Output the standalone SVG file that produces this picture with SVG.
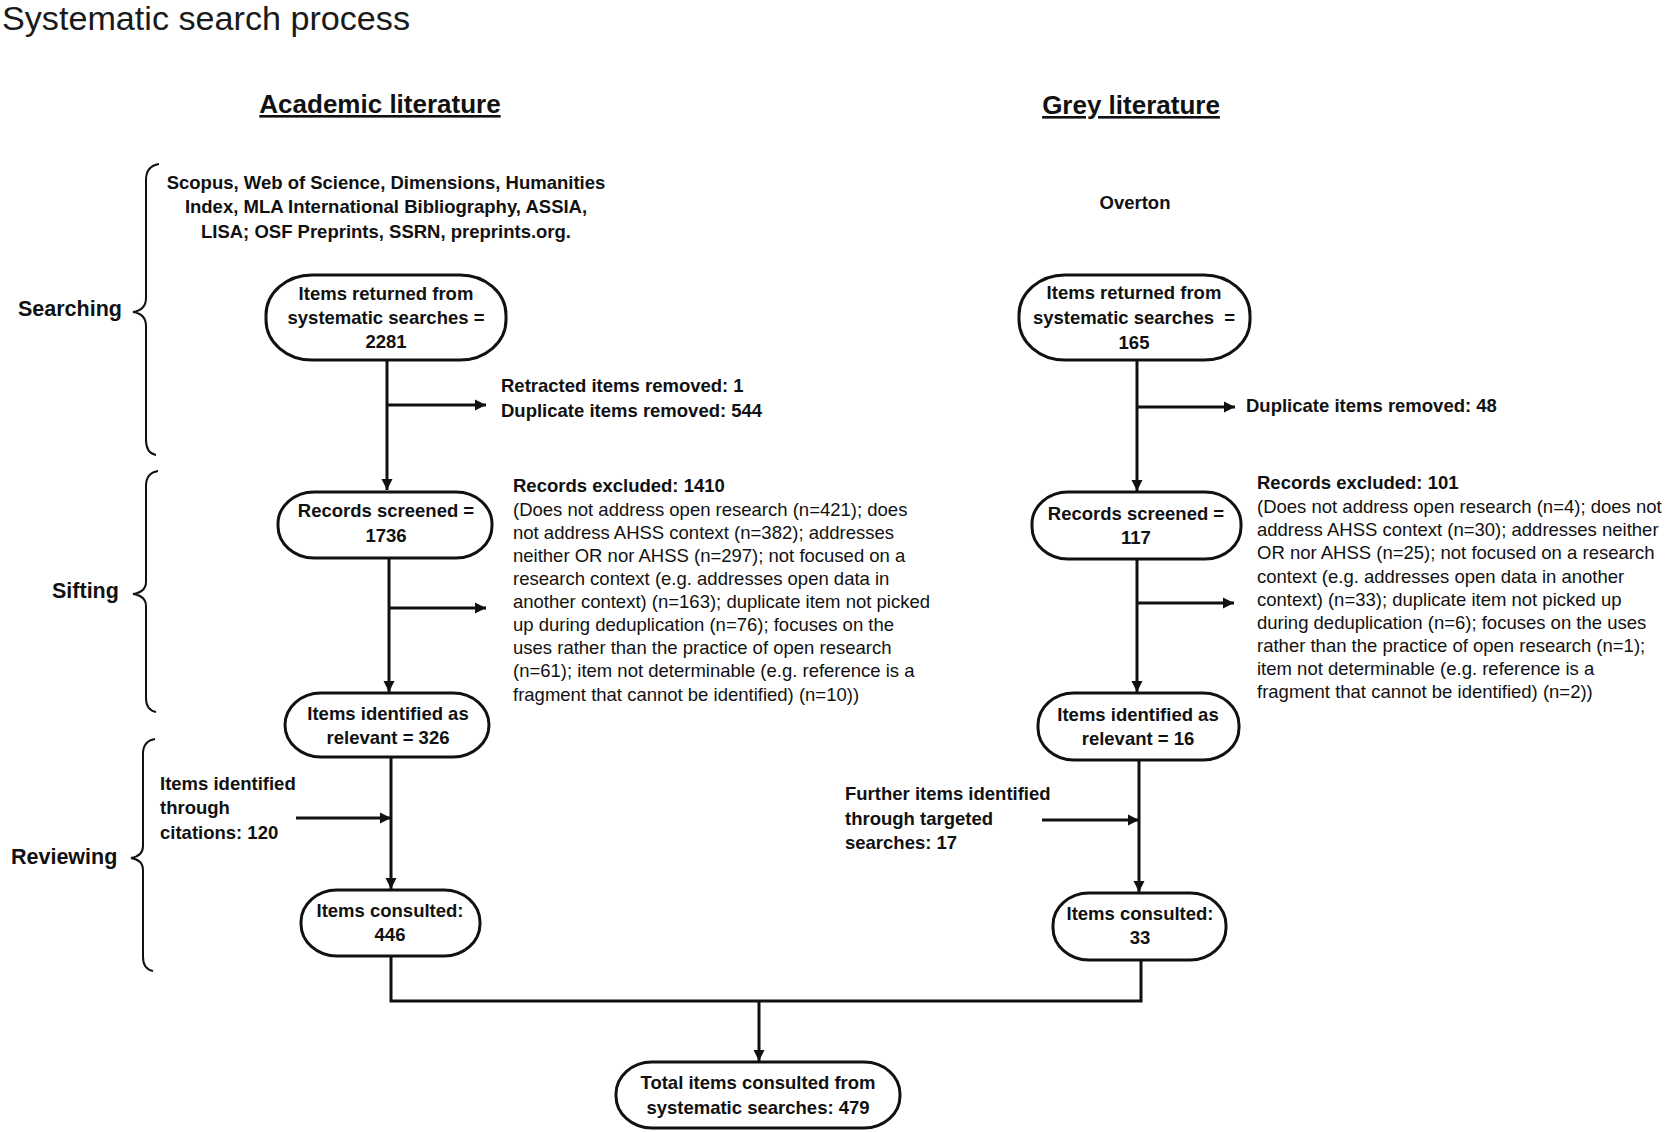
<svg xmlns="http://www.w3.org/2000/svg" width="1665" height="1132" viewBox="0 0 1665 1132">
<style>
text{font-family:"Liberation Sans",Arial,Helvetica,sans-serif;fill:#111}
.b{font-size:18.5px;font-weight:bold}
.r{font-size:18.5px}
.m{text-anchor:middle}
.h{font-size:26px;font-weight:bold;text-decoration:underline}
.lbl{font-size:21.5px;font-weight:bold}
.box{fill:#fff;stroke:#111;stroke-width:3}
.con{fill:none;stroke:#111;stroke-width:3}
.brace{fill:none;stroke:#111;stroke-width:2}
</style>
<defs>
<marker id="ah" viewBox="0 0 10 10" refX="10" refY="5" markerWidth="11" markerHeight="12" markerUnits="userSpaceOnUse" orient="auto">
<path d="M0,0 L10,5 L0,10 z" fill="#111"/>
</marker>
</defs>
<rect width="1665" height="1132" fill="#fff"/>
<text x="2" y="30" textLength="408" lengthAdjust="spacingAndGlyphs" style="font-size:33px;fill:#1a1a1a">Systematic search process</text>
<text class="h m" x="380" y="113">Academic literature</text>
<text class="h m" x="1131" y="114">Grey literature</text>

<g id="phases">
<path class="brace" d="M159,164 Q146,166 146,180 V298 Q146,310 133,312 Q146,314 146,326 V440 Q146,453 156,455"/>
<text class="lbl" x="18" y="316">Searching</text>
<path class="brace" d="M158,471 Q146,473 146,486 V582 Q146,592 133,594 Q146,596 146,606 V698 Q146,710 156,712"/>
<text class="lbl" x="52" y="598">Sifting</text>
<path class="brace" d="M155,739 Q143,741 143,754 V846 Q143,856 131,858 Q143,860 143,870 V957 Q143,969 153,971"/>
<text class="lbl" x="11" y="864">Reviewing</text>
</g>

<g id="connectors">
<path class="con" d="M387,360 V490" marker-end="url(#ah)"/>
<path class="con" d="M387,405 H486" marker-end="url(#ah)"/>
<path class="con" d="M389,558 V692" marker-end="url(#ah)"/>
<path class="con" d="M389,608 H486" marker-end="url(#ah)"/>
<path class="con" d="M391,757 V889" marker-end="url(#ah)"/>
<path class="con" d="M296,818 H391" marker-end="url(#ah)"/>
<path class="con" d="M1137,360 V491" marker-end="url(#ah)"/>
<path class="con" d="M1137,407 H1235" marker-end="url(#ah)"/>
<path class="con" d="M1137,559 V692" marker-end="url(#ah)"/>
<path class="con" d="M1137,603 H1234" marker-end="url(#ah)"/>
<path class="con" d="M1139,760 V892" marker-end="url(#ah)"/>
<path class="con" d="M1042,820 H1139" marker-end="url(#ah)"/>
<path class="con" d="M391,956 V1001 H1141 V960"/>
<path class="con" d="M759,1001 V1061" marker-end="url(#ah)"/>
</g>

<g id="acad-sources">
<text class="b m" x="386" y="189">Scopus, Web of Science, Dimensions, Humanities</text>
<text class="b m" x="386" y="213">Index, MLA International Bibliography, ASSIA,</text>
<text class="b m" x="386" y="238">LISA; OSF Preprints, SSRN, preprints.org.</text>
</g>

<g id="acad-returned">
<rect class="box" x="266" y="275" width="240" height="85" rx="46" ry="40"/>
<text class="b m" x="386" y="300">Items returned from</text>
<text class="b m" x="386" y="324">systematic searches =</text>
<text class="b m" x="386" y="348">2281</text>
</g>

<g id="acad-removed">
<text class="b" x="501" y="392">Retracted items removed: 1</text>
<text class="b" x="501" y="417">Duplicate items removed: 544</text>
</g>

<g id="acad-screened">
<rect class="box" x="278" y="492" width="214" height="66" rx="36" ry="32"/>
<text class="b m" x="386" y="517">Records screened =</text>
<text class="b m" x="386" y="542">1736</text>
</g>

<g id="acad-excluded">
<text class="b" x="513" y="492">Records excluded: 1410</text>
<text class="r" x="513" y="516">(Does not address open research (n=421); does</text>
<text class="r" x="513" y="539">not address AHSS context (n=382); addresses</text>
<text class="r" x="513" y="562">neither OR nor AHSS (n=297); not focused on a</text>
<text class="r" x="513" y="585">research context (e.g. addresses open data in</text>
<text class="r" x="513" y="608">another context) (n=163); duplicate item not picked</text>
<text class="r" x="513" y="631">up during deduplication (n=76); focuses on the</text>
<text class="r" x="513" y="654">uses rather than the practice of open research</text>
<text class="r" x="513" y="677">(n=61); item not determinable (e.g. reference is a</text>
<text class="r" x="513" y="701">fragment that cannot be identified) (n=10))</text>
</g>

<g id="acad-relevant">
<rect class="box" x="285" y="693" width="204" height="64" rx="36" ry="32"/>
<text class="b m" x="388" y="720">Items identified as</text>
<text class="b m" x="388" y="744">relevant = 326</text>
</g>

<g id="acad-citations">
<text class="b" x="160" y="790">Items identified</text>
<text class="b" x="160" y="814">through</text>
<text class="b" x="160" y="839">citations: 120</text>
</g>

<g id="acad-consulted">
<rect class="box" x="301" y="890" width="179" height="66" rx="36" ry="32"/>
<text class="b m" x="390" y="917">Items consulted:</text>
<text class="b m" x="390" y="941">446</text>
</g>

<g id="grey-sources">
<text class="b m" x="1135" y="209">Overton</text>
</g>

<g id="grey-returned">
<rect class="box" x="1019" y="275" width="231" height="85" rx="46" ry="40"/>
<text class="b m" x="1134" y="299">Items returned from</text>
<text class="b m" x="1134" y="324" xml:space="preserve">systematic searches  =</text>
<text class="b m" x="1134" y="349">165</text>
</g>

<g id="grey-removed">
<text class="b" x="1246" y="412">Duplicate items removed: 48</text>
</g>

<g id="grey-screened">
<rect class="box" x="1032" y="492" width="209" height="67" rx="36" ry="32"/>
<text class="b m" x="1136" y="520">Records screened =</text>
<text class="b m" x="1136" y="544">117</text>
</g>

<g id="grey-excluded">
<text class="b" x="1257" y="489">Records excluded: 101</text>
<text class="r" x="1257" y="513">(Does not address open research (n=4); does not</text>
<text class="r" x="1257" y="536">address AHSS context (n=30); addresses neither</text>
<text class="r" x="1257" y="559">OR nor AHSS (n=25); not focused on a research</text>
<text class="r" x="1257" y="583">context (e.g. addresses open data in another</text>
<text class="r" x="1257" y="606">context) (n=33); duplicate item not picked up</text>
<text class="r" x="1257" y="629">during deduplication (n=6); focuses on the uses</text>
<text class="r" x="1257" y="652">rather than the practice of open research (n=1);</text>
<text class="r" x="1257" y="675">item not determinable (e.g. reference is a</text>
<text class="r" x="1257" y="698">fragment that cannot be identified) (n=2))</text>
</g>

<g id="grey-relevant">
<rect class="box" x="1038" y="693" width="201" height="67" rx="36" ry="32"/>
<text class="b m" x="1138" y="721">Items identified as</text>
<text class="b m" x="1138" y="745">relevant = 16</text>
</g>

<g id="grey-targeted">
<text class="b" x="845" y="800">Further items identified</text>
<text class="b" x="845" y="825">through targeted</text>
<text class="b" x="845" y="849">searches: 17</text>
</g>

<g id="grey-consulted">
<rect class="box" x="1053" y="893" width="173" height="67" rx="36" ry="32"/>
<text class="b m" x="1140" y="920">Items consulted:</text>
<text class="b m" x="1140" y="944">33</text>
</g>

<g id="total">
<rect class="box" x="616" y="1062" width="284" height="66" rx="36" ry="32"/>
<text class="b m" x="758" y="1089">Total items consulted from</text>
<text class="b m" x="758" y="1114">systematic searches: 479</text>
</g>
</svg>
